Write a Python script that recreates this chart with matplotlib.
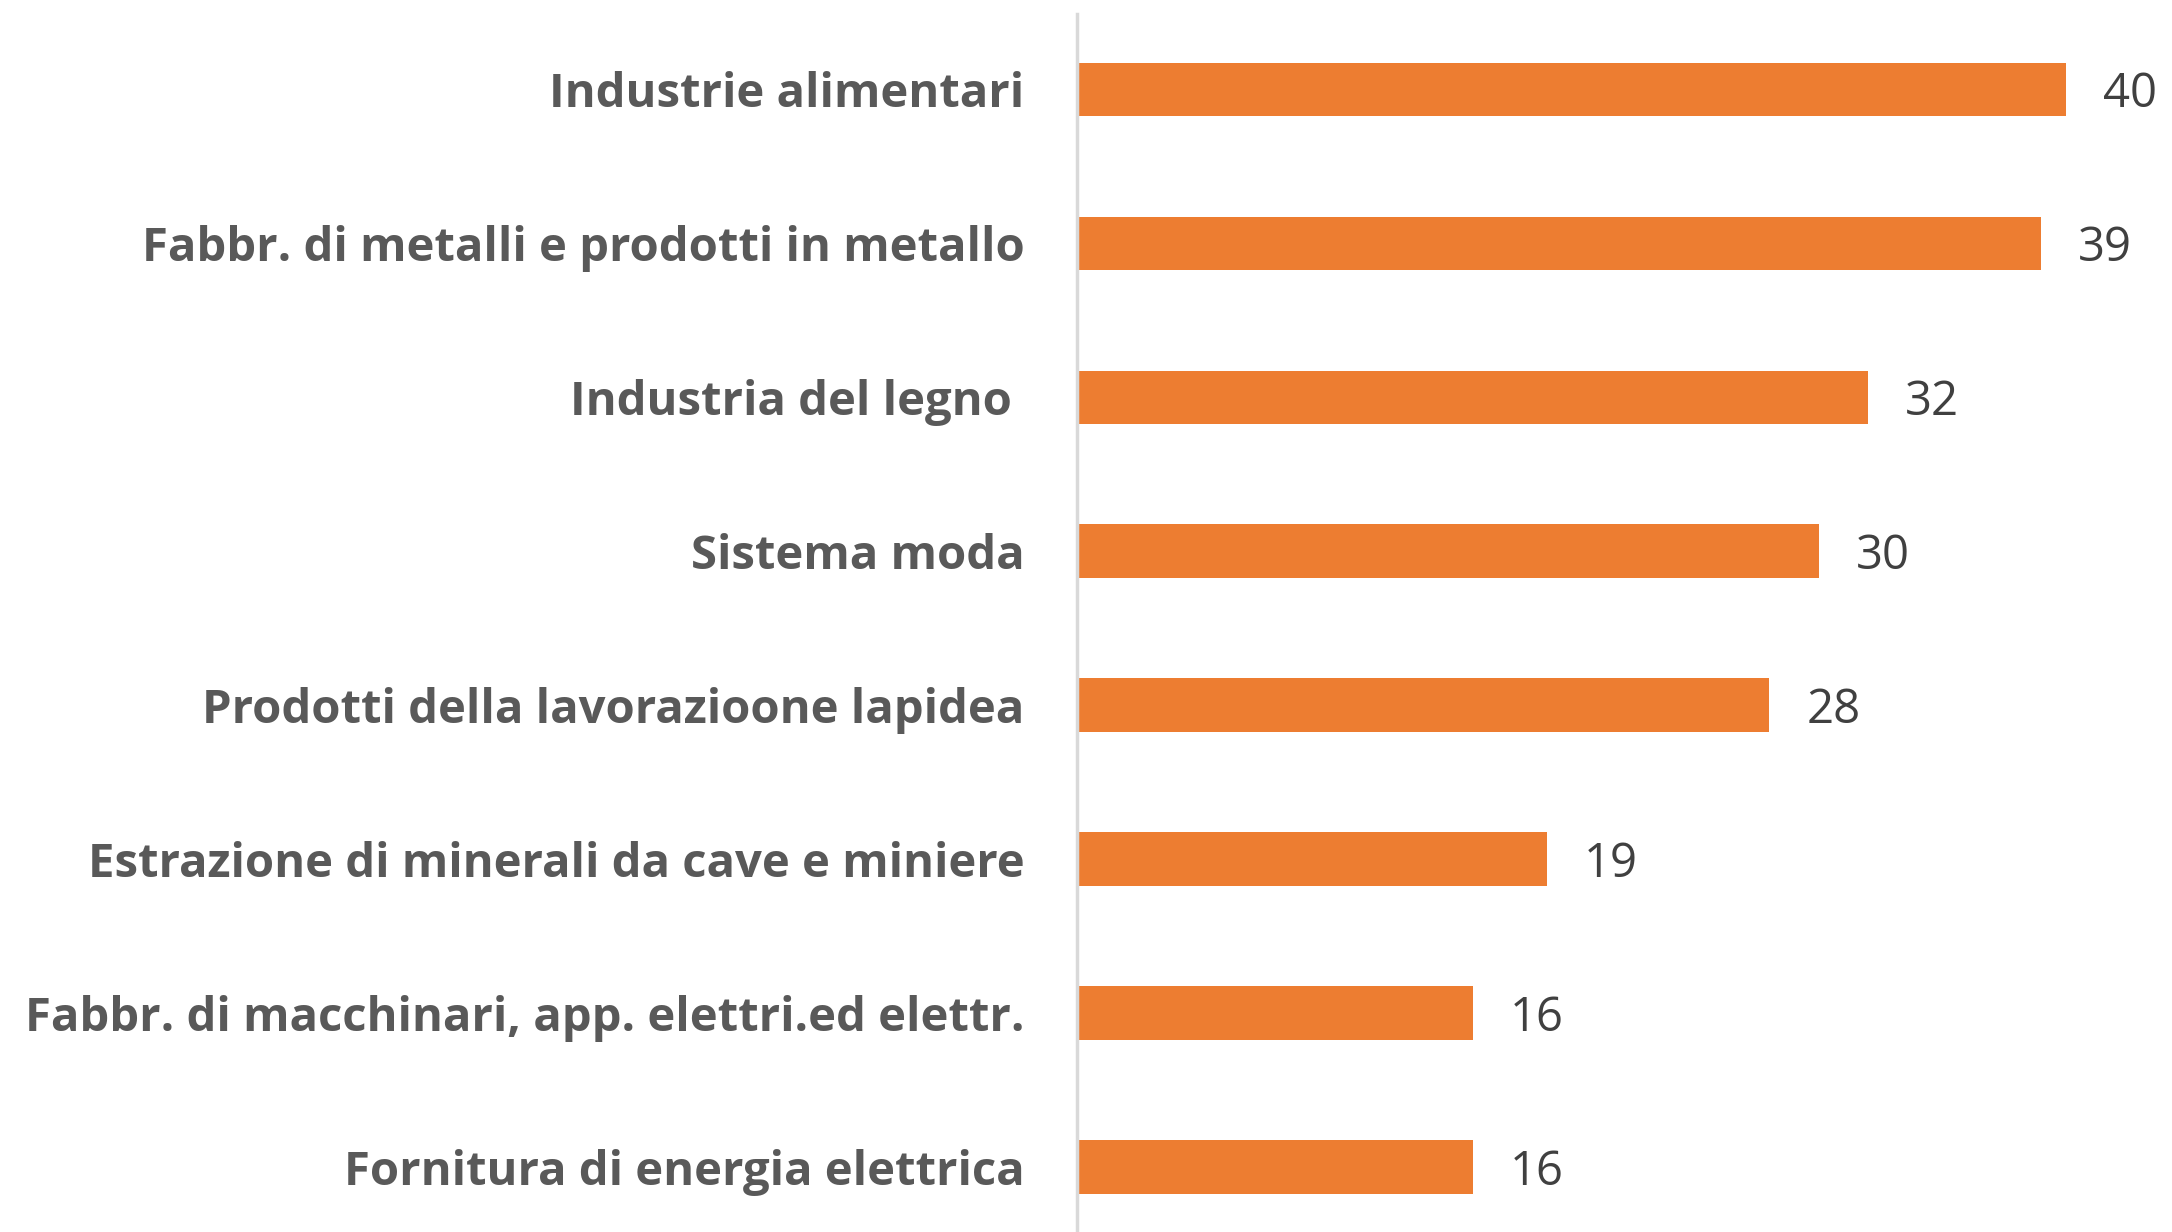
import matplotlib
matplotlib.use("Agg")
import matplotlib.pyplot as plt

# settori e numero di imprese
categories = [
    "Industrie alimentari",
    "Fabbr. di metalli e prodotti in metallo",
    "Industria del legno ",
    "Sistema moda",
    "Prodotti della lavorazioone lapidea",
    "Estrazione di minerali da cave e miniere",
    "Fabbr. di macchinari, app. elettri.ed elettr.",
    "Fornitura di energia elettrica",
]
values = [40, 39, 32, 30, 28, 19, 16, 16]

bar_color = "#ED7D31"
label_color = "#595959"
value_color = "#404040"

fig = plt.figure(figsize=(21.72, 12.32), dpi=100)
ax = fig.add_axes([0.496, 0.0, 0.504, 0.9886])

pos = list(range(len(categories)))
ax.barh(pos, values, height=0.35, color=bar_color, zorder=2)

ax.set_xlim(0, 44.3)
ax.set_ylim(7.42, -0.49)

for p, v in zip(pos, values):
    ax.text(v + 1.5, p + 0.03, str(v), va="center", ha="left",
            fontsize=34, color=value_color, family="Open Sans")

ax.set_yticks(pos)
ax.set_yticklabels(categories, fontsize=34, fontweight="bold",
                   color=label_color, family="Open Sans")
ax.tick_params(axis="y", length=0, pad=38)
ax.set_xticks([])

for s in ["top", "right", "bottom"]:
    ax.spines[s].set_visible(False)
ax.spines["left"].set_color("#D9D9D9")
ax.spines["left"].set_linewidth(2.5)

fig.savefig("out.png", dpi=100)
plt.close(fig)
